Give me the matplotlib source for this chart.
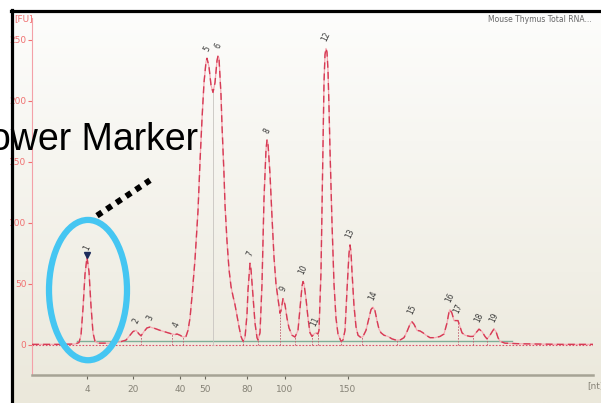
import numpy as np
import matplotlib
matplotlib.use("Agg")
import matplotlib.pyplot as plt
from matplotlib.patches import Ellipse
from matplotlib.lines import Line2D

# ---------------------------------------------------------------------------
# Data (x = migration position, y = FU)
# ---------------------------------------------------------------------------
trace_pos = [0, 8, 28, 43, 47, 49, 51, 53, 55, 57, 59, 61, 63, 66, 78, 88, 94,
             98, 101, 104, 107, 109, 112, 115, 118, 123, 128, 134, 140, 143,
             145, 148, 151, 154, 156, 158, 160, 163, 166, 168, 170, 172, 174,
             175, 177, 179, 181, 183, 185, 186, 187, 189, 190, 192, 193, 195,
             197, 199, 201, 203, 205, 207, 209, 211, 213, 215, 216, 218, 219,
             221, 223, 225, 226, 228, 230, 232, 234, 235, 236, 238, 240, 242,
             244, 246, 248, 249, 251, 253, 255, 257, 260, 263, 266, 268, 270,
             271, 272, 274, 276, 278, 280, 282, 284, 286, 287, 289, 290, 291,
             292, 293, 294, 295, 296, 297, 298, 300, 302, 304, 306, 309, 311,
             313, 315, 317, 318, 319, 320, 322, 324, 326, 329, 331, 334, 337,
             339, 341, 343, 345, 347, 349, 352, 356, 360, 364, 368, 372, 375,
             378, 380, 382, 385, 388, 391, 394, 398, 403, 408, 412, 415, 417,
             418, 420, 422, 424, 426, 428, 430, 433, 438, 441, 444, 447, 450,
             453, 455, 458, 461, 462, 464, 466, 468, 473, 488, 528, 561]
trace_fu = [0.5, 0.5, 0.5, 0.8, 2, 8, 30, 58, 72, 60, 32, 10, 3, 1.5, 1.5,
            2.5, 4, 8, 11, 12, 9, 7.5, 11, 14, 14.7, 13.5, 12, 10.5, 9, 8.5,
            9, 8, 6.5, 7, 12, 22, 40, 70, 110, 150, 185, 215, 232, 235, 228,
            213, 207, 215, 233, 237, 235, 205, 180, 140, 115, 85, 62, 48, 40,
            33, 24, 15, 7, 3, 6, 25, 45, 67, 62, 40, 18, 6, 4, 10, 50, 120,
            160, 168, 165, 140, 105, 72, 50, 38, 26, 28, 38, 33, 22, 14, 8,
            6.5, 12, 30, 48, 52, 50, 38, 22, 10, 7, 9, 10, 9, 12, 60, 110,
            165, 215, 238, 243, 240, 225, 195, 160, 100, 50, 22, 9, 3, 4, 12,
            45, 75, 82, 76, 60, 32, 15, 8, 6, 7, 12, 22, 29, 31, 28, 20, 13,
            10, 8, 7, 5, 4, 4, 6, 11, 17, 19, 17, 12, 11.5, 10, 8, 6, 6, 7,
            9, 18, 27, 29, 26, 20, 20, 20, 15, 10, 8, 7, 7, 10, 13, 11, 7, 5,
            8, 12, 13, 11, 6, 3, 1.5, 1, 0.5, 0.5]

peak_ids = [str(i) for i in range(1, 20)]
peak_pos = [55, 104, 118, 144, 175, 186, 218, 235, 251, 271, 283, 294, 318,
            341, 380, 418, 426, 447, 462]

size_ticks = [55, 101, 148, 173, 215, 253, 316]
size_labels = ["4", "20", "40", "50", "80", "100", "150"]
fu_ticks = [0, 50, 100, 150, 200, 250]

drop_pos = [109, 140, 151, 211, 226, 248, 263, 280, 286, 309, 330, 365, 426,
            441, 455]
base_start, base_end = 45, 480

sample_name = "Mouse Thymus Total RNA..."

# ---------------------------------------------------------------------------
# Figure
# ---------------------------------------------------------------------------
W, H = 601, 403
fig = plt.figure(figsize=(W / 100, H / 100), dpi=100)
fig.patch.set_facecolor("white")

# beige gradient background inside the frame
bg = fig.add_axes([11 / W, 0, 590 / W, 393 / H], zorder=0)
grad = np.linspace(0, 1, 256)[:, None]
bg.imshow(grad, aspect="auto", cmap=matplotlib.colors.LinearSegmentedColormap.from_list(
    "bg", ["#fdfdfc", "#ebe8db"]), extent=[0, 1, 0, 1], origin="upper")
bg.set_axis_off()

ax = fig.add_axes([32 / W, 28 / H, 561 / W, 357 / H], zorder=1)
ax.patch.set_alpha(0)
ax.set_xlim(0, 561)
ax.set_ylim(-24.6, 268)

pos = np.array(trace_pos, dtype=float)
fu = np.array(trace_fu, dtype=float)

# baselines
ax.plot([base_start, base_end], [3.5, 3.5], color="#7fae98", lw=1.0, zorder=2)
ax.plot([0, 561], [0.2, 0.2], color="#e0506a", lw=0.8, ls=(0, (1.5, 1.5)), zorder=2)

# drop lines at peak boundaries
for x in drop_pos:
    y = np.interp(x, pos, fu)
    ax.plot([x, x], [0, y], color="#c06070", lw=0.6, ls=(0, (2, 1.5)), zorder=2)
ax.plot([181, 181], [0, 207], color="#c8c4c0", lw=0.6, zorder=2)

# trace
ax.plot(pos, fu, color="#f6a9b2", lw=0.9, zorder=3)
ax.plot(pos, fu, color="#d63c56", lw=1.0, dashes=(5, 3), zorder=4)

# peak labels
for pid, x in zip(peak_ids, peak_pos):
    y = np.interp(x, pos, fu)
    ax.annotate(pid, (x, y), xytext=(0, 4), textcoords="offset points",
                rotation=65, ha="center", va="bottom", fontsize=5.5,
                color="#3a3a3a", zorder=5)
ax.plot([peak_pos[0]], [np.interp(peak_pos[0], pos, fu) + 2], marker="v",
        ms=4, color="#1d2c5c", zorder=5)

# axes styling
for s in ["top", "right"]:
    ax.spines[s].set_visible(False)
ax.spines["left"].set_color("#f4a0a8")
ax.spines["left"].set_linewidth(0.8)
ax.spines["bottom"].set_color("#a6a395")
ax.spines["bottom"].set_linewidth(1.8)

ax.set_yticks(fu_ticks)
ax.set_yticklabels([str(v) for v in fu_ticks])
ax.tick_params(axis="y", colors="#f07070", labelsize=6.5, length=3, width=0.8, pad=1)
ax.set_xticks(size_ticks)
ax.set_xticklabels(size_labels)
ax.tick_params(axis="x", colors="#6a675c", labelcolor="#858276", labelsize=6.5,
               length=3, width=0.8, pad=4)

fig.text(14 / W, 1 - 19 / H, "[FU]", color="#f07070", fontsize=6.5, va="center")
fig.text(587 / W, 1 - 386 / H, "[nt]", color="#858276", fontsize=6.5, va="center")
fig.text(592 / W, 1 - 19 / H, sample_name, color="#666666", fontsize=5.5,
         ha="right", va="center")

# lower-marker annotation
ell = Ellipse((56, 45), 78, 115, fill=False, ec="#45c6f2", lw=4.5, zorder=6,
              clip_on=False)
ax.add_patch(ell)
ax.plot([65, 118], [106, 135], color="black", lw=4.3, ls=(0, (1, 0.95)),
        solid_capstyle="butt", zorder=6, clip_on=False)
fig.text(198 / W, 1 - 140 / H, "Lower Marker", fontsize=27, color="black",
         family="Liberation Sans", ha="right", va="center", zorder=7)

# black frame (top and left)
fig.add_artist(Line2D([11 / W, 1], [1 - 11 / H, 1 - 11 / H], color="black", lw=2.3))
fig.add_artist(Line2D([12 / W, 12 / W], [0, 1 - 10 / H], color="black", lw=2.3))

fig.savefig("out.png", dpi=100)
